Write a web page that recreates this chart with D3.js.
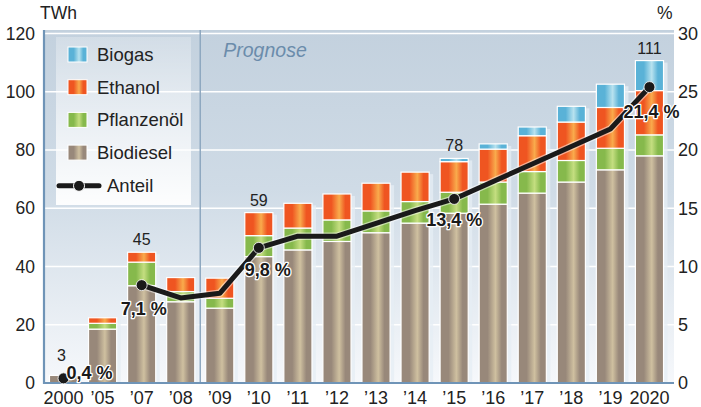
<!DOCTYPE html>
<html>
<head>
<meta charset="utf-8">
<script src="https://cdn.jsdelivr.net/npm/d3@7"></script>
<style>
  body { margin: 0; background: #fff; }
  svg { display: block; font-family: "Liberation Sans", Arial, sans-serif; }
</style>
</head>
<body>
<div id="chart"></div>
<script>
// Categories (years)
var years = ["2000", "\u201905", "\u201907", "\u201908", "\u201909", "\u201910", "\u201911", "\u201912",
             "\u201913", "\u201914", "\u201915", "\u201916", "\u201917", "\u201918", "\u201919", "2020"];

// Stacked series in TWh
var biodiesel   = [2.6, 18.5, 33.4, 27.9, 25.7, 43.4, 45.7, 48.6, 51.6, 54.9, 58.3, 61.4, 65.2, 69.0, 73.2, 78.0];
var pflanzenoel = [0, 2.0, 8.1, 3.5, 3.4, 7.2, 7.5, 7.4, 7.5, 7.4, 7.2, 7.6, 7.4, 7.4, 7.4, 7.2];
var ethanol     = [0, 1.9, 3.4, 4.8, 6.9, 7.9, 8.5, 8.9, 9.5, 10.1, 10.5, 11.3, 12.3, 13.2, 14.0, 15.2];
var biogas      = [0, 0, 0, 0, 0, 0, 0, 0, 0, 0, 1.1, 1.8, 3.0, 5.4, 8.0, 10.3];

// Anteil line in % (right axis); null = no point
var anteil = [0.4, null, 8.4, 7.3, 7.7, 11.6, 12.6, 12.6, 13.7, 14.8, 15.8, 17.3, 18.8, 20.3, 21.8, 25.4];

// Printed totals and percentage labels
var totalLabelYears = ["2000", "\u201907", "\u201910", "\u201915", "2020"];
var totalLabelTexts = ["3", "45", "59", "78", "111"];
var pctLabelTexts = ["0,4 %", "7,1 %", "9,8 %", "13,4 %", "21,4 %"];

// Axis ticks
var leftTicks = [0, 20, 40, 60, 80, 100, 120];
var rightTicks = [0, 5, 10, 15, 20, 25, 30];

var seriesNames = ["Biodiesel", "Pflanzenöl", "Ethanol", "Biogas"];
var legendNames = ["Biogas", "Ethanol", "Pflanzenöl", "Biodiesel"];

// ---- layout ----
var width = 701, height = 407;
var plotLeft = 44, plotRight = 674, plotTop = 30, plotBottom = 383;

var svg = d3.select("#chart").append("svg")
    .attr("width", width)
    .attr("height", height);

var defs = svg.append("defs");

// background gradient
var bg = defs.append("linearGradient").attr("id", "bgGrad")
    .attr("x1", 0).attr("x2", 0).attr("y1", 0).attr("y2", 1);
bg.append("stop").attr("offset", "0%").attr("stop-color", "#c3d1de");
bg.append("stop").attr("offset", "45%").attr("stop-color", "#cfdbe6");
bg.append("stop").attr("offset", "100%").attr("stop-color", "#f6f8fb");

// bar gradients (light stripe in the middle)
var barColors = {
    "Biodiesel":  ["#98887a", "#cfc0a0"],
    "Pflanzenöl": ["#86b94c", "#c4de80"],
    "Ethanol":    ["#ef5521", "#f9ab4c"],
    "Biogas":     ["#5ab2d7", "#b8e2ef"]
};
seriesNames.forEach(function (name, i) {
    var g = defs.append("linearGradient").attr("id", "grad" + i)
        .attr("x1", 0).attr("x2", 1).attr("y1", 0).attr("y2", 0);
    g.append("stop").attr("offset", "0%").attr("stop-color", barColors[name][0]);
    g.append("stop").attr("offset", "30%").attr("stop-color", barColors[name][0]);
    g.append("stop").attr("offset", "58%").attr("stop-color", barColors[name][1]);
    g.append("stop").attr("offset", "80%").attr("stop-color", barColors[name][0]);
    g.append("stop").attr("offset", "100%").attr("stop-color", barColors[name][0]);
});

// legend box gradient
var lg = defs.append("linearGradient").attr("id", "legGrad")
    .attr("x1", 0).attr("x2", 0).attr("y1", 0).attr("y2", 1);
lg.append("stop").attr("offset", "0%").attr("stop-color", "#fff").attr("stop-opacity", 0.25);
lg.append("stop").attr("offset", "100%").attr("stop-color", "#fff").attr("stop-opacity", 0.95);

// scales
var x = d3.scaleBand().domain(years).range([plotLeft, 669]).paddingInner(0.28).paddingOuter(0.14);
var y = d3.scaleLinear().domain([0, 120]).range([plotBottom, 33.5]);
var yPct = d3.scaleLinear().domain([0, 30]).range([plotBottom, 33.5]);

// plot background
svg.append("rect")
    .attr("x", plotLeft).attr("y", plotTop)
    .attr("width", plotRight - plotLeft).attr("height", plotBottom - plotTop)
    .attr("fill", "url(#bgGrad)");

// gridlines
svg.append("g").selectAll("line")
    .data(leftTicks.slice(1))
    .enter().append("line")
    .attr("x1", plotLeft).attr("x2", plotRight)
    .attr("y1", function (d) { return y(d); })
    .attr("y2", function (d) { return y(d); })
    .attr("stroke", "#fff")
    .attr("stroke-width", 1.6);

// Prognose divider between '08 and '09
var divX = (x(years[3]) + x.bandwidth() + x(years[4])) / 2;
svg.append("line")
    .attr("x1", divX).attr("x2", divX)
    .attr("y1", plotTop).attr("y2", plotBottom)
    .attr("stroke", "#8ea8c0").attr("stroke-width", 1.5);

svg.append("text")
    .attr("x", divX + 23).attr("y", 57)
    .style("font-size", "19.5px")
    .style("font-style", "italic")
    .style("fill", "#6b8cab")
    .text("Prognose");

// legend box (drawn before bars; sits in the left, empty part)
svg.append("rect")
    .attr("x", 56).attr("y", 37)
    .attr("width", 135).attr("height", 168)
    .attr("fill", "url(#legGrad)");

// stack data
var table = years.map(function (yr, i) {
    return { year: yr, "Biodiesel": biodiesel[i], "Pflanzenöl": pflanzenoel[i], "Ethanol": ethanol[i], "Biogas": biogas[i] };
});
var stacked = d3.stack().keys(seriesNames)(table);

// bar shadows (light strip at the right)
svg.append("g").selectAll("rect")
    .data(table)
    .enter().append("rect")
    .attr("x", function (d) { return x(d.year) + 4; })
    .attr("width", x.bandwidth())
    .attr("y", function (d) { return y(d["Biodiesel"] + d["Pflanzenöl"] + d["Ethanol"] + d["Biogas"]) + 2; })
    .attr("height", function (d) { return plotBottom - y(d["Biodiesel"] + d["Pflanzenöl"] + d["Ethanol"] + d["Biogas"]) - 2; })
    .attr("fill", "#e6edf4")
    .attr("opacity", 0.75);

// bars
stacked.forEach(function (layer, li) {
    svg.append("g").selectAll("rect")
        .data(layer.filter(function (d) { return d[1] - d[0] > 0; }))
        .enter().append("rect")
        .attr("x", function (d) { return x(d.data.year); })
        .attr("width", x.bandwidth())
        .attr("y", function (d) { return y(d[1]); })
        .attr("height", function (d) { return y(d[0]) - y(d[1]); })
        .attr("fill", "url(#grad" + li + ")")
        .attr("stroke", "#fff")
        .attr("stroke-width", 1.2);
});

// axis lines
svg.append("line")
    .attr("x1", plotLeft).attr("x2", plotRight)
    .attr("y1", plotBottom).attr("y2", plotBottom)
    .attr("stroke", "#6f94b7").attr("stroke-width", 2.2);
svg.append("line")
    .attr("x1", plotLeft).attr("x2", plotLeft)
    .attr("y1", plotTop).attr("y2", plotBottom + 1)
    .attr("stroke", "#6f94b7").attr("stroke-width", 2.2);

// left axis
var leftAxis = svg.append("g")
    .attr("transform", "translate(" + plotLeft + ",0)")
    .call(d3.axisLeft(y).tickValues(leftTicks).tickSize(0).tickPadding(9));
leftAxis.select(".domain").remove();
leftAxis.selectAll("text")
    .style("font-size", "17.5px")
    .style("fill", "#222")
    .style("font-family", "Liberation Sans, Arial, sans-serif");

// right axis
var rightAxis = svg.append("g")
    .attr("transform", "translate(" + plotRight + ",0)")
    .call(d3.axisRight(yPct).tickValues(rightTicks).tickSize(0).tickPadding(4));
rightAxis.select(".domain").remove();
rightAxis.selectAll("text")
    .style("font-size", "18px")
    .style("fill", "#222")
    .style("font-family", "Liberation Sans, Arial, sans-serif");

// bottom axis
var bottomAxis = svg.append("g")
    .attr("transform", "translate(0," + plotBottom + ")")
    .call(d3.axisBottom(x).tickSize(0).tickPadding(8));
bottomAxis.select(".domain").remove();
bottomAxis.selectAll("text")
    .style("font-size", "18px")
    .style("fill", "#222")
    .style("font-family", "Liberation Sans, Arial, sans-serif");

// unit labels
svg.append("text").attr("x", 40).attr("y", 19)
    .style("font-size", "17.5px").style("fill", "#222").text("TWh");
svg.append("text").attr("x", 657).attr("y", 19)
    .style("font-size", "17.5px").style("fill", "#222").text("%");

// total labels above bars
svg.append("g").selectAll("text")
    .data(totalLabelYears)
    .enter().append("text")
    .attr("x", function (d) { return x(d) + x.bandwidth() / 2 - (d === "2000" ? 2 : 0); })
    .attr("y", function (d, i) {
        var idx = years.indexOf(d);
        var tot = biodiesel[idx] + pflanzenoel[idx] + ethanol[idx] + biogas[idx];
        return y(tot) - (d === "2000" ? 14 : 7);
    })
    .attr("text-anchor", "middle")
    .style("font-size", "16px")
    .style("fill", "#222")
    .text(function (d, i) { return totalLabelTexts[i]; });

// Anteil line
var idxs = d3.range(years.length);
var line = d3.line()
    .defined(function (i) { return anteil[i] != null; })
    .x(function (i) { return x(years[i]) + x.bandwidth() / 2; })
    .y(function (i) { return yPct(anteil[i]); });

svg.append("path")
    .attr("d", line(idxs))
    .attr("fill", "none")
    .attr("stroke", "#fff")
    .attr("stroke-opacity", 0.5)
    .attr("stroke-width", 7.5)
    .attr("stroke-linejoin", "round");
svg.append("path")
    .attr("d", line(idxs))
    .attr("fill", "none")
    .attr("stroke", "#1a1a1a")
    .attr("stroke-width", 5)
    .attr("stroke-linejoin", "round");

// dots at the labelled years
var dotIdx = totalLabelYears.map(function (d) { return years.indexOf(d); });
svg.append("g").selectAll("circle")
    .data(dotIdx)
    .enter().append("circle")
    .attr("cx", function (i) { return x(years[i]) + x.bandwidth() / 2; })
    .attr("cy", function (i) { return yPct(anteil[i]); })
    .attr("r", 5.5)
    .attr("fill", "#1a1a1a")
    .attr("stroke", "#fff")
    .attr("stroke-width", 0.8);

// percentage labels (white halo)
var pctOffsets = [[3, 1, "start"], [2, 30, "middle"], [9, 28, "middle"], [0, 27, "middle"], [2, 31, "middle"]];
svg.append("g").selectAll("text")
    .data(dotIdx)
    .enter().append("text")
    .attr("x", function (i, k) { return x(years[i]) + x.bandwidth() / 2 + pctOffsets[k][0]; })
    .attr("y", function (i, k) { return yPct(anteil[i]) + pctOffsets[k][1]; })
    .attr("text-anchor", function (i, k) { return pctOffsets[k][2]; })
    .style("font-size", "18px")
    .style("font-weight", "bold")
    .style("fill", "#1a1a1a")
    .style("stroke", "#fff")
    .style("stroke-width", 2.5)
    .style("stroke-linejoin", "round")
    .style("paint-order", "stroke")
    .text(function (i, k) { return pctLabelTexts[k]; });

// legend items
var legendSpacing = 32.7;
var legend = svg.append("g").attr("transform", "translate(68,47)");
var legendItems = legend.selectAll(".legend-item")
    .data(legendNames)
    .enter().append("g")
    .attr("class", "legend-item")
    .attr("transform", function (d, i) { return "translate(0," + i * legendSpacing + ")"; });

legendItems.append("rect")
    .attr("width", 19)
    .attr("height", 15)
    .attr("fill", function (d) { return "url(#grad" + seriesNames.indexOf(d) + ")"; })
    .attr("stroke", "#fff")
    .attr("stroke-width", 1);

legendItems.append("text")
    .attr("x", 29)
    .attr("y", 14)
    .style("font-size", "18.5px")
    .style("fill", "#222")
    .text(function (d) { return d; });

var anteilItem = legend.append("g")
    .attr("transform", "translate(0," + 4 * legendSpacing + ")");
anteilItem.append("line")
    .attr("x1", -9).attr("x2", 31)
    .attr("y1", 8).attr("y2", 8)
    .attr("stroke", "#1a1a1a")
    .attr("stroke-width", 5)
    .attr("stroke-linecap", "round");
anteilItem.append("circle")
    .attr("cx", 11).attr("cy", 8).attr("r", 5.5)
    .attr("fill", "#1a1a1a")
    .attr("stroke", "#fff")
    .attr("stroke-width", 1);
anteilItem.append("text")
    .attr("x", 39).attr("y", 14)
    .style("font-size", "18.5px")
    .style("fill", "#222")
    .text("Anteil");
</script>
</body>
</html>
